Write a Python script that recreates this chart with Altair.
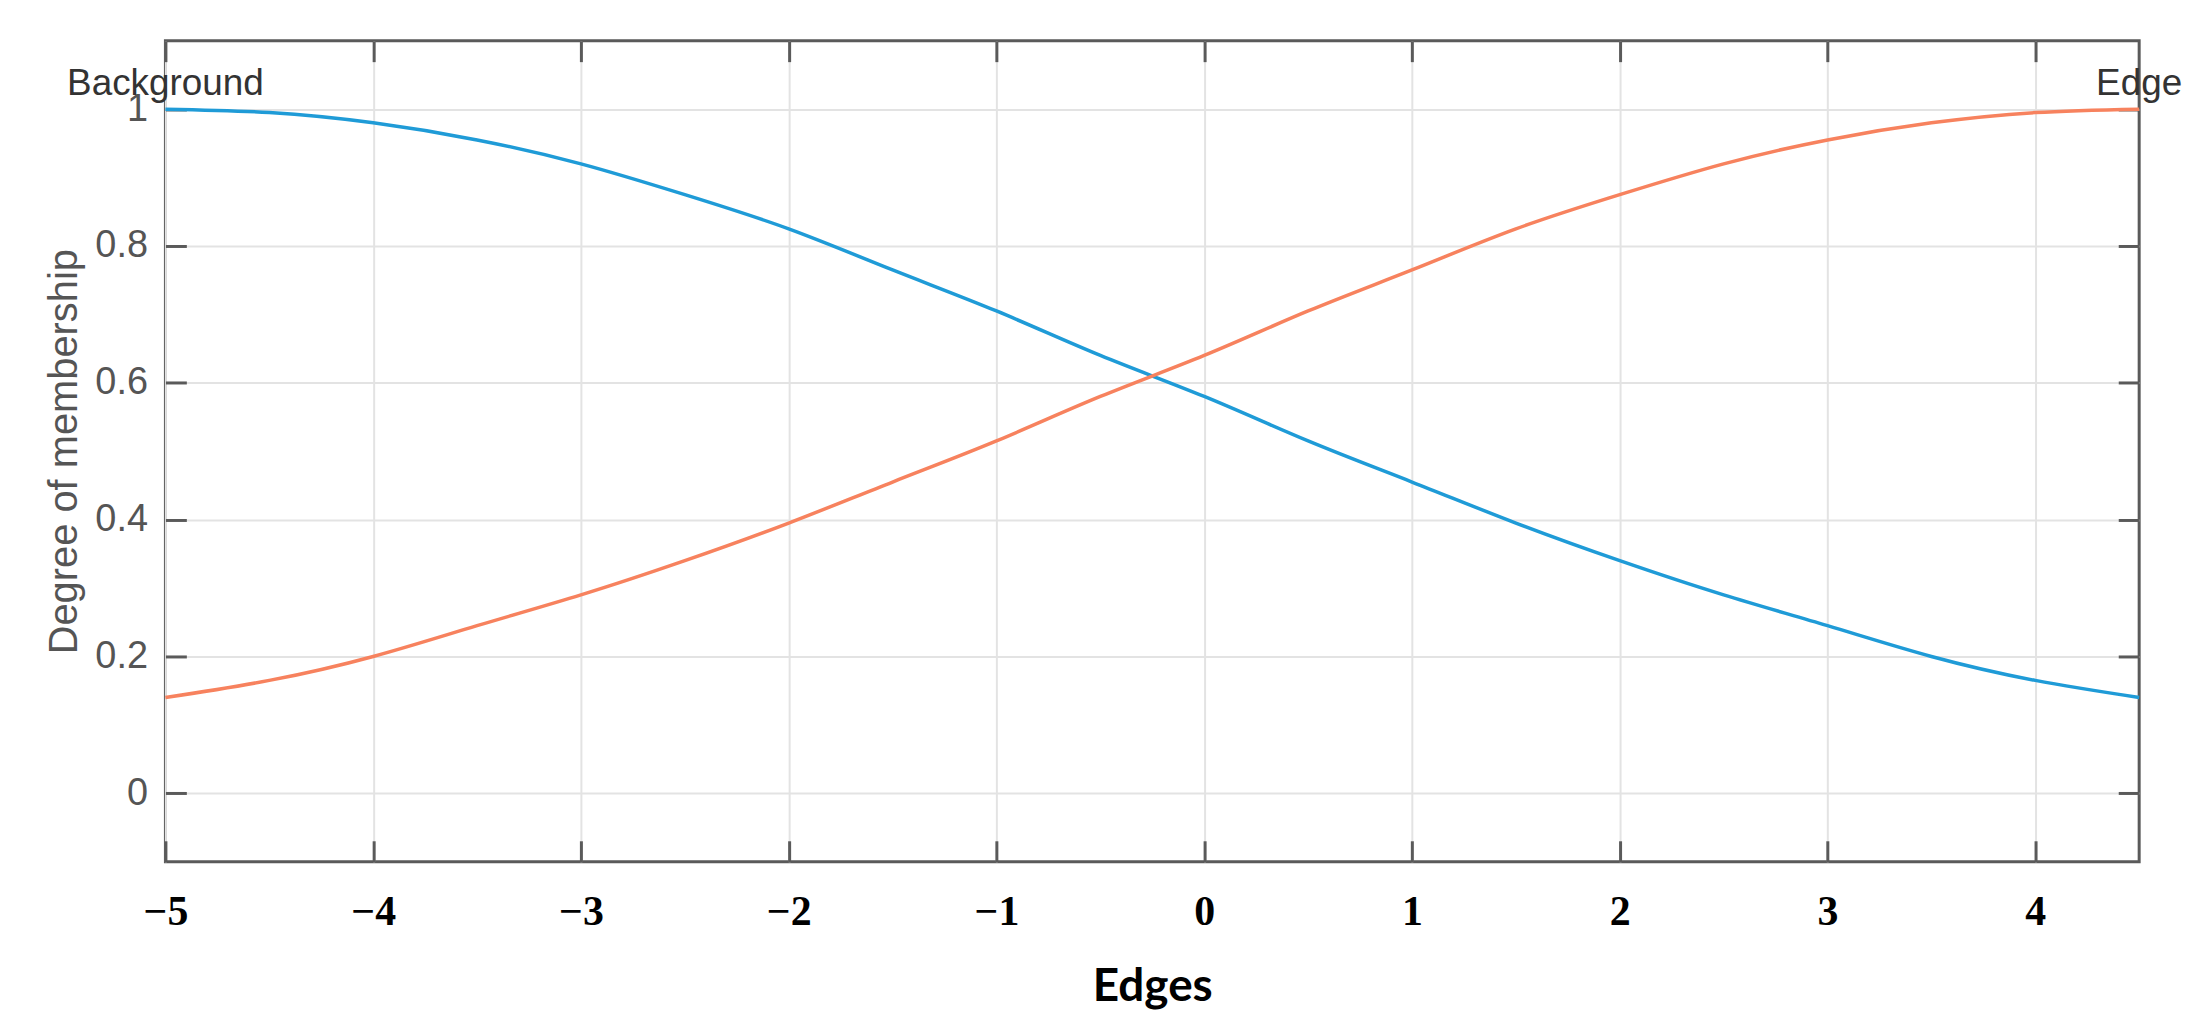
import altair as alt
import pandas as pd

# Data
x_vals = [-5.0, -4.5, -4.0, -3.5, -3.0, -2.5, -2.0, -1.5, -1.0, -0.5,
          0.0, 0.5, 1.0, 1.5, 2.0, 2.5, 3.0, 3.5, 4.0, 4.5]
background_vals = [1.0, 0.995, 0.98, 0.955, 0.92, 0.875, 0.825, 0.765, 0.705, 0.64,
                   0.58, 0.515, 0.455, 0.395, 0.34, 0.29, 0.245, 0.2, 0.165, 0.14]
edge_vals = [0.14, 0.165, 0.2, 0.245, 0.29, 0.34, 0.395, 0.455, 0.515, 0.58,
             0.64, 0.705, 0.765, 0.825, 0.875, 0.92, 0.955, 0.98, 0.995, 1.0]
series_names = ["Background", "Edge"]
series_colors = ["#1f9bd7", "#f7825e"]
x_ticks = [-5, -4, -3, -2, -1, 0, 1, 2, 3, 4]
y_ticks = [0, 0.2, 0.4, 0.6, 0.8, 1]
label_x = [-5.0, 4.5]
label_y = [1.0, 1.0]

rows = []
for xv, b in zip(x_vals, background_vals):
    rows.append({"x": xv, "y": b, "series": series_names[0]})
for xv, e in zip(x_vals, edge_vals):
    rows.append({"x": xv, "y": e, "series": series_names[1]})
df = pd.DataFrame(rows)
labels_df = pd.DataFrame({"x": label_x, "y": label_y, "text": series_names})

xscale = alt.Scale(domain=[-5, 4.5], nice=False, zero=False)
yscale = alt.Scale(domain=[-0.1, 1.1], nice=False, zero=False)

FRAME = "#5a5a5a"
GRID = "#e3e3e3"

lines = alt.Chart(df).mark_line(strokeWidth=3.5, interpolate="natural").encode(
    x=alt.X("x:Q", scale=xscale, axis=alt.Axis(
        orient="bottom", values=x_ticks, grid=True, gridColor=GRID, gridWidth=2,
        ticks=False, domain=False, labelFont="Liberation Serif", labelFontWeight="bold",
        labelFontSize=42, labelColor="#000000", labelPadding=30, labelFlush=False,
        title="Edges", titleFont="Lato", titleFontWeight="bold", titleFontSize=46,
        titleColor="#000000", titlePadding=32)),
    y=alt.Y("y:Q", scale=yscale, axis=alt.Axis(
        orient="left", values=y_ticks, grid=True, gridColor=GRID, gridWidth=2,
        ticks=False, domain=False, labelFont="Liberation Sans", labelFontSize=38,
        labelColor="#555555", labelPadding=18, labelFlush=False, format="~g",
        title="Degree of membership", titleFont="Liberation Sans", titleFontWeight="normal",
        titleFontSize=40, titleColor="#555555", titlePadding=10)),
    color=alt.Color("series:N", scale=alt.Scale(domain=series_names, range=series_colors),
                    legend=None),
)

tick_common = dict(grid=False, domain=False, labels=False, title=None,
                   tickSize=21, tickWidth=3, tickColor=FRAME)

ticks_bl = alt.Chart(df).mark_point(opacity=0).encode(
    x=alt.X("x:Q", scale=xscale, axis=alt.Axis(orient="bottom", offset=-21,
                                                values=x_ticks, **tick_common)),
    y=alt.Y("y:Q", scale=yscale, axis=alt.Axis(orient="left", offset=-21,
                                                values=y_ticks, **tick_common)),
)

ticks_tr = alt.Chart(df).mark_point(opacity=0).encode(
    x=alt.X("x:Q", scale=xscale, axis=alt.Axis(orient="top", offset=-21,
                                                values=x_ticks, **tick_common)),
    y=alt.Y("y:Q", scale=yscale, axis=alt.Axis(orient="right", offset=-21,
                                                values=y_ticks, **tick_common)),
)

texts = alt.Chart(labels_df).mark_text(
    font="Liberation Sans", fontSize=37, color="#333333", align="center",
    baseline="alphabetic", dy=-14).encode(
    x=alt.X("x:Q", scale=xscale, axis=None),
    y=alt.Y("y:Q", scale=yscale, axis=None),
    text="text:N",
)

chart = alt.layer(lines, ticks_bl, ticks_tr, texts).resolve_axis(
    x="independent", y="independent"
).properties(
    width=1981, height=824,
    background="white",
    autosize=alt.AutoSizeParams(type="none"),
    padding={"left": 158, "top": 31, "right": 46, "bottom": 150},
).configure_view(
    stroke=FRAME, strokeWidth=3
)

chart.save("out.html", embed_options={"renderer": "svg", "actions": False})
